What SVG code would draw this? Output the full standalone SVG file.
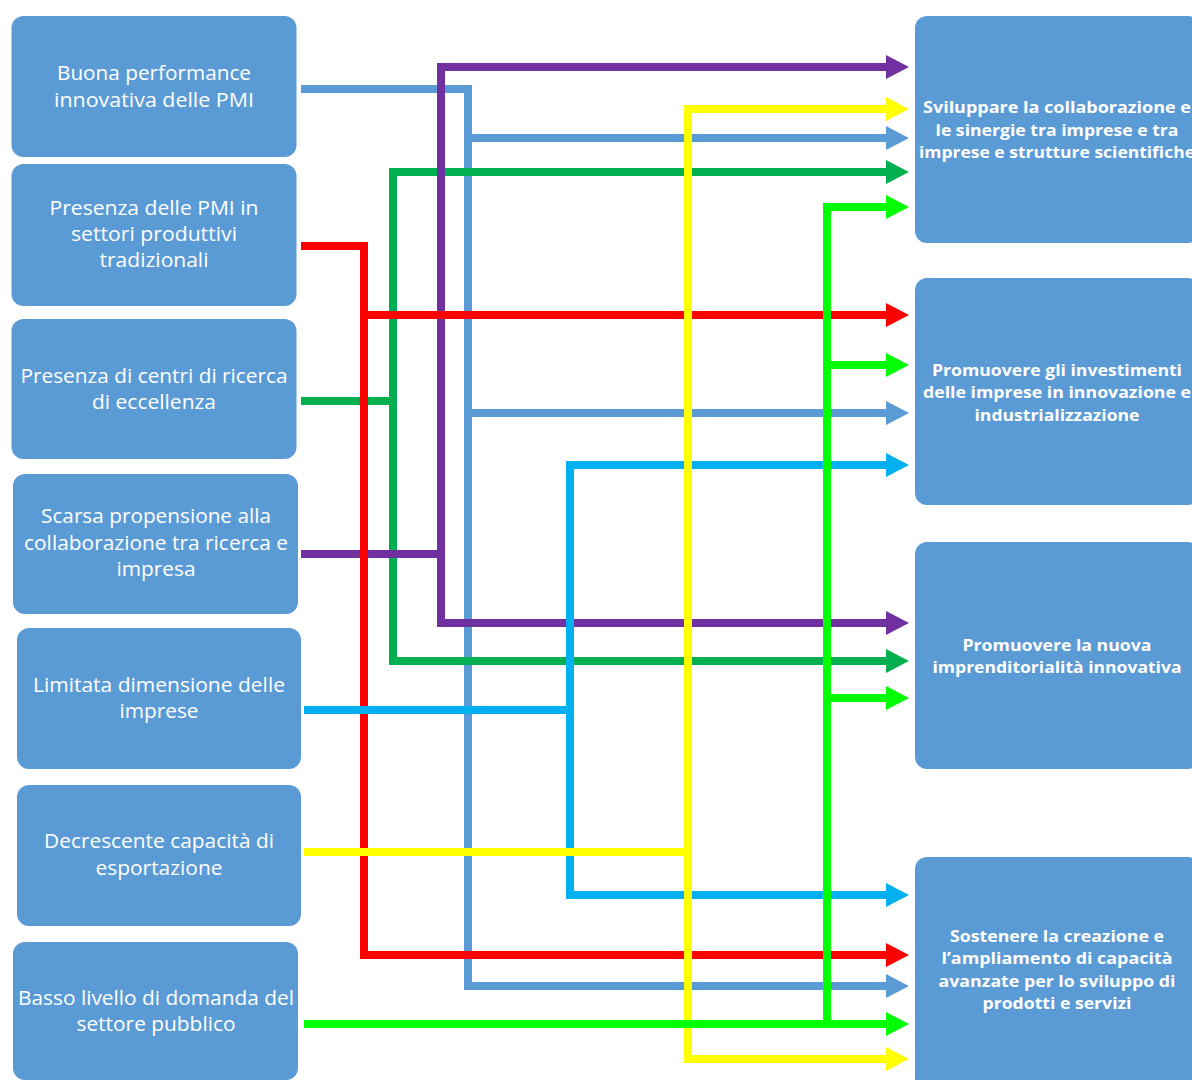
<svg xmlns="http://www.w3.org/2000/svg" width="1192" height="1080" viewBox="0 0 1192 1080">
<style>
.box{fill:#5B9BD5}
.lt{font-family:"Open Sans","Liberation Sans",sans-serif;font-size:20px;fill:#FFFFFF;text-anchor:middle}
.rt{font-family:"Open Sans","Liberation Sans",sans-serif;font-size:16.5px;font-weight:bold;fill:#FFFFFF;text-anchor:middle}
.c{fill:none;stroke-width:8;stroke-linejoin:miter;stroke-linecap:butt}
.blue{stroke:#5B9BD5}.green{stroke:#00B050}.purple{stroke:#7030A0}.red{stroke:#FF0000}.lblue{stroke:#00B0F0}.yellow{stroke:#FFFF00}.lgreen{stroke:#00FF00}
</style>
<defs>
<marker id="aBlue" markerUnits="userSpaceOnUse" markerWidth="24" markerHeight="24" refX="1" refY="12" orient="auto"><path d="M0,0 L23,12 L0,24 Z" fill="#5B9BD5"/></marker>
<marker id="aGreen" markerUnits="userSpaceOnUse" markerWidth="24" markerHeight="24" refX="1" refY="12" orient="auto"><path d="M0,0 L23,12 L0,24 Z" fill="#00B050"/></marker>
<marker id="aPurple" markerUnits="userSpaceOnUse" markerWidth="24" markerHeight="24" refX="1" refY="12" orient="auto"><path d="M0,0 L23,12 L0,24 Z" fill="#7030A0"/></marker>
<marker id="aRed" markerUnits="userSpaceOnUse" markerWidth="24" markerHeight="24" refX="1" refY="12" orient="auto"><path d="M0,0 L23,12 L0,24 Z" fill="#FF0000"/></marker>
<marker id="aLblue" markerUnits="userSpaceOnUse" markerWidth="24" markerHeight="24" refX="1" refY="12" orient="auto"><path d="M0,0 L23,12 L0,24 Z" fill="#00B0F0"/></marker>
<marker id="aYellow" markerUnits="userSpaceOnUse" markerWidth="24" markerHeight="24" refX="1" refY="12" orient="auto"><path d="M0,0 L23,12 L0,24 Z" fill="#FFFF00"/></marker>
<marker id="aLgreen" markerUnits="userSpaceOnUse" markerWidth="24" markerHeight="24" refX="1" refY="12" orient="auto"><path d="M0,0 L23,12 L0,24 Z" fill="#00FF00"/></marker>
</defs>
<rect width="1192" height="1080" fill="#FFFFFF"/>

<g id="n1"><rect class="box" x="11.5" y="16" width="285" height="141" rx="12"/>
<text class="lt" x="154" y="80" textLength="194" lengthAdjust="spacingAndGlyphs">Buona performance</text>
<text class="lt" x="154" y="107" textLength="200" lengthAdjust="spacingAndGlyphs">innovativa delle PMI</text></g>

<g id="n2"><rect class="box" x="11.5" y="164" width="285" height="142" rx="12"/>
<text class="lt" x="154" y="215" textLength="209" lengthAdjust="spacingAndGlyphs">Presenza delle PMI in</text>
<text class="lt" x="154" y="241" textLength="166" lengthAdjust="spacingAndGlyphs">settori produttivi</text>
<text class="lt" x="154" y="267" textLength="109" lengthAdjust="spacingAndGlyphs">tradizionali</text></g>

<g id="n3"><rect class="box" x="11.5" y="319" width="285" height="140" rx="12"/>
<text class="lt" x="154" y="383" textLength="267" lengthAdjust="spacingAndGlyphs">Presenza di centri di ricerca</text>
<text class="lt" x="154" y="409" textLength="124" lengthAdjust="spacingAndGlyphs">di eccellenza</text></g>

<g id="n4"><rect class="box" x="13" y="474" width="285" height="140" rx="12"/>
<text class="lt" x="156" y="523" textLength="230" lengthAdjust="spacingAndGlyphs">Scarsa propensione alla</text>
<text class="lt" x="156" y="550" textLength="264" lengthAdjust="spacingAndGlyphs">collaborazione tra ricerca e</text>
<text class="lt" x="156" y="576" textLength="79" lengthAdjust="spacingAndGlyphs">impresa</text></g>

<g id="n5"><rect class="box" x="17" y="628" width="284" height="141" rx="12"/>
<text class="lt" x="159" y="692" textLength="252" lengthAdjust="spacingAndGlyphs">Limitata dimensione delle</text>
<text class="lt" x="159" y="718" textLength="79" lengthAdjust="spacingAndGlyphs">imprese</text></g>

<g id="n6"><rect class="box" x="17" y="785" width="284" height="141" rx="12"/>
<text class="lt" x="159" y="848" textLength="230" lengthAdjust="spacingAndGlyphs">Decrescente capacità di</text>
<text class="lt" x="159" y="875" textLength="127" lengthAdjust="spacingAndGlyphs">esportazione</text></g>

<g id="n7"><rect class="box" x="13" y="942" width="285" height="138" rx="12"/>
<text class="lt" x="156" y="1005" textLength="276" lengthAdjust="spacingAndGlyphs">Basso livello di domanda del</text>
<text class="lt" x="156" y="1031" textLength="159" lengthAdjust="spacingAndGlyphs">settore pubblico</text></g>

<g id="r1"><rect class="box" x="915" y="16" width="285" height="227" rx="12"/>
<text class="rt" x="1057" y="113" textLength="268" lengthAdjust="spacingAndGlyphs">Sviluppare la collaborazione e</text>
<text class="rt" x="1057" y="136" textLength="243" lengthAdjust="spacingAndGlyphs">le sinergie tra imprese e tra</text>
<text class="rt" x="1057" y="158" textLength="276" lengthAdjust="spacingAndGlyphs">imprese e strutture scientifiche</text></g>

<g id="r2"><rect class="box" x="915" y="278" width="285" height="227" rx="12"/>
<text class="rt" x="1057" y="376" textLength="250" lengthAdjust="spacingAndGlyphs">Promuovere gli investimenti</text>
<text class="rt" x="1057" y="398" textLength="268" lengthAdjust="spacingAndGlyphs">delle imprese in innovazione e</text>
<text class="rt" x="1057" y="421" textLength="165" lengthAdjust="spacingAndGlyphs">industrializzazione</text></g>

<g id="r3"><rect class="box" x="915" y="542" width="285" height="227" rx="12"/>
<text class="rt" x="1057" y="651" textLength="189" lengthAdjust="spacingAndGlyphs">Promuovere la nuova</text>
<text class="rt" x="1057" y="673" textLength="249" lengthAdjust="spacingAndGlyphs">imprenditorialità innovativa</text></g>

<g id="r4"><rect class="box" x="915" y="857" width="285" height="240" rx="12"/>
<text class="rt" x="1057" y="942" textLength="214" lengthAdjust="spacingAndGlyphs">Sostenere la creazione e</text>
<text class="rt" x="1057" y="964" textLength="231" lengthAdjust="spacingAndGlyphs">l’ampliamento di capacità</text>
<text class="rt" x="1057" y="987" textLength="237" lengthAdjust="spacingAndGlyphs">avanzate per lo sviluppo di</text>
<text class="rt" x="1057" y="1009" textLength="149" lengthAdjust="spacingAndGlyphs">prodotti e servizi</text></g>

<g id="connectors">
<g id="c-blue">
<path class="c blue" d="M301,89 H468 V986"/>
<path class="c blue" d="M464,138 H887" marker-end="url(#aBlue)"/>
<path class="c blue" d="M464,413 H887" marker-end="url(#aBlue)"/>
<path class="c blue" d="M464,986 H887" marker-end="url(#aBlue)"/>
</g>
<g id="c-green">
<path class="c green" d="M301,401 H394"/>
<path class="c green" d="M887,172 H393 V661 H887" marker-end="url(#aGreen)"/>
<path class="c green" d="M880,172 H887" marker-end="url(#aGreen)"/>
</g>
<g id="c-purple">
<path class="c purple" d="M301,554 H441"/>
<path class="c purple" d="M887,67 H441 V623 H887" marker-end="url(#aPurple)"/>
<path class="c purple" d="M880,67 H887" marker-end="url(#aPurple)"/>
</g>
<g id="c-red">
<path class="c red" d="M301,246 H364 V955 H887" marker-end="url(#aRed)"/>
<path class="c red" d="M360,315 H887" marker-end="url(#aRed)"/>
</g>
<g id="c-lblue">
<path class="c lblue" d="M304,710 H570"/>
<path class="c lblue" d="M887,465 H570 V895 H887" marker-end="url(#aLblue)"/>
<path class="c lblue" d="M880,465 H887" marker-end="url(#aLblue)"/>
</g>
<g id="c-yellow">
<path class="c yellow" d="M304,852 H688"/>
<path class="c yellow" d="M887,109 H688 V1059 H887" marker-end="url(#aYellow)"/>
<path class="c yellow" d="M880,109 H887" marker-end="url(#aYellow)"/>
</g>
<g id="c-lgreen">
<path class="c lgreen" d="M304,1024 H887" marker-end="url(#aLgreen)"/>
<path class="c lgreen" d="M887,207 H827 V1024"/>
<path class="c lgreen" d="M880,207 H887" marker-end="url(#aLgreen)"/>
<path class="c lgreen" d="M823,365 H887" marker-end="url(#aLgreen)"/>
<path class="c lgreen" d="M823,698 H887" marker-end="url(#aLgreen)"/>
</g>
</g>
</svg>
